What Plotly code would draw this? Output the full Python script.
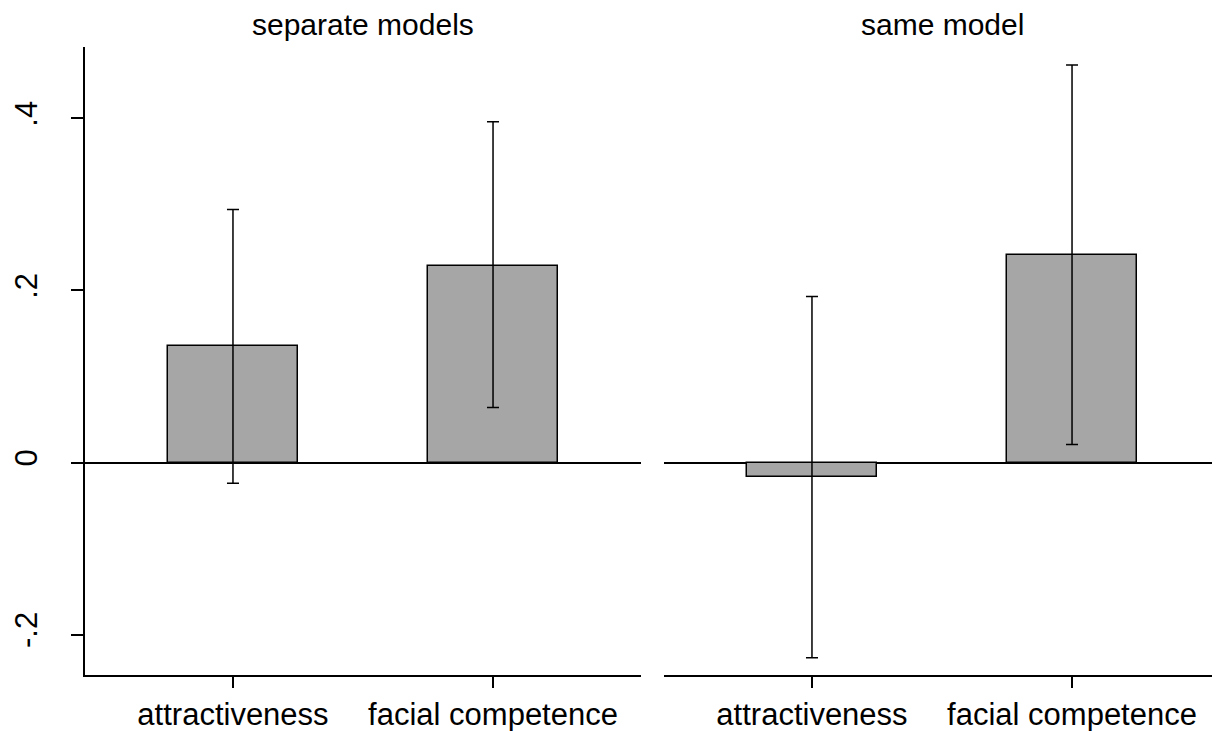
import plotly.graph_objects as go

categories = ["attractiveness", "facial competence"]
panel_titles = ["separate models", "same model"]
sep_values = [0.135, 0.229]
sep_lower = [-0.024, 0.064]
sep_upper = [0.294, 0.396]
same_values = [-0.017, 0.241]
same_lower = [-0.227, 0.021]
same_upper = [0.193, 0.462]
y_tick_vals = [-0.2, 0, 0.2, 0.4]
y_tick_text = ["-.2", "0", ".2", ".4"]

FONT = "Liberation Sans, Arial, sans-serif"
FS = 31
OFF = 8  # page body margin
W, H = 1220 - OFF, 731 - OFF

fig = go.Figure()

def add_panel(vals, lo, hi, xa, ya):
    fig.add_trace(go.Bar(
        x=[0, 1], y=vals, width=0.5,
        marker=dict(color="#a6a6a6", line=dict(color="black", width=1.5)),
        error_y=dict(type="data", symmetric=False,
                     array=[h - v for h, v in zip(hi, vals)],
                     arrayminus=[v - l for v, l in zip(vals, lo)],
                     color="black", thickness=1.5, width=6),
        xaxis=xa, yaxis=ya, showlegend=False,
    ))

add_panel(sep_values, sep_lower, sep_upper, "x", "y")
add_panel(same_values, same_lower, same_upper, "x2", "y2")

xcommon = dict(range=[-0.569, 1.569], tickmode="array", tickvals=[0, 1],
               ticktext=categories, showline=True, linecolor="black", linewidth=1.5,
               ticks="outside", ticklen=11, tickwidth=1.5, tickcolor="black",
               showgrid=False, zeroline=False, automargin=False,
               tickfont=dict(family=FONT, size=FS, color="black"))
ycommon = dict(range=[-0.247, 0.483], showgrid=False, zeroline=True,
               zerolinecolor="black", zerolinewidth=1.5, automargin=False)

TOP = 47 - OFF
BOT = 731 - 675
plot_h = H - TOP - BOT

def px(x):
    return (x - OFF) / W

title_y = 1 + (47 - 25) / plot_h

fig.update_layout(
    width=W, height=H,
    margin=dict(l=0, r=0, t=TOP, b=BOT, autoexpand=False),
    plot_bgcolor="white", paper_bgcolor="white",
    bargap=0,
    xaxis=dict(domain=[px(85), px(641)], anchor="y", **xcommon),
    xaxis2=dict(domain=[px(664), 1.0], anchor="y2", **xcommon),
    yaxis=dict(anchor="x", tickmode="array", tickvals=y_tick_vals, ticktext=y_tick_text,
               tickangle=-90, showline=True, linecolor="black", linewidth=1.5,
               ticks="outside", ticklen=12, tickwidth=1.5, tickcolor="black",
               ticklabelstandoff=22,
               tickfont=dict(family=FONT, size=FS, color="black"), **ycommon),
    yaxis2=dict(anchor="x2", showticklabels=False, showline=False, ticks="", **ycommon),
    annotations=[
        dict(text=panel_titles[0], x=px(363), y=title_y,
             xref="paper", yref="paper", xanchor="center", yanchor="middle",
             showarrow=False, font=dict(family=FONT, size=30, color="black")),
        dict(text=panel_titles[1], x=px(942), y=title_y,
             xref="paper", yref="paper", xanchor="center", yanchor="middle",
             showarrow=False, font=dict(family=FONT, size=30, color="black")),
    ],
)

fig.write_html("out.html")
